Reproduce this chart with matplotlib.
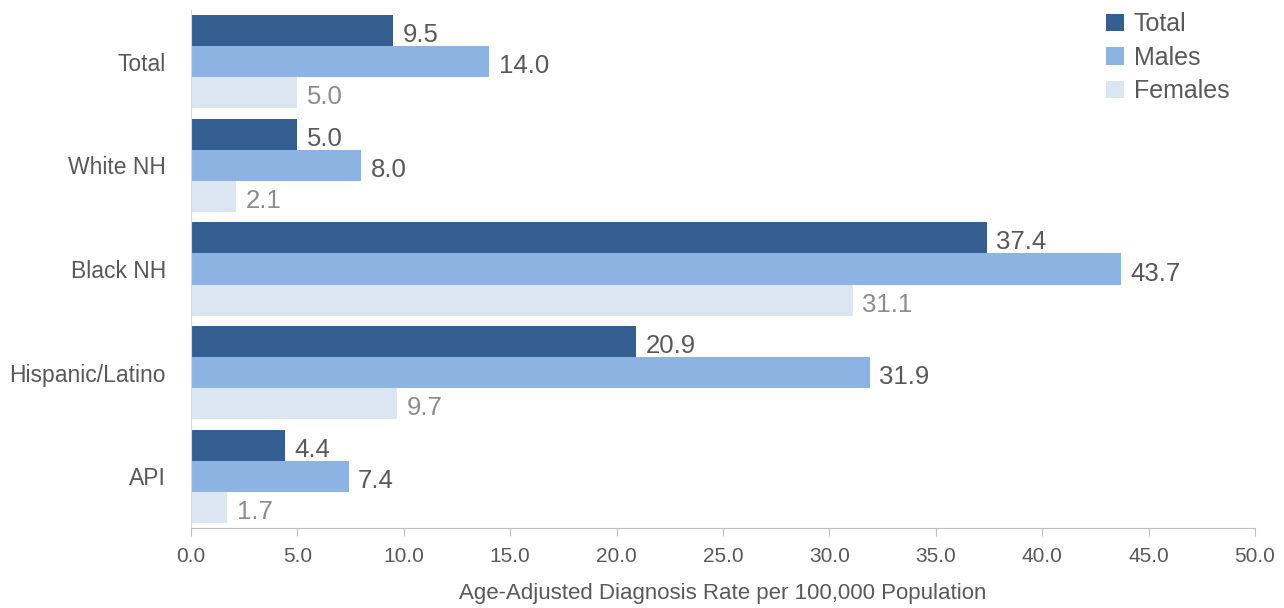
import matplotlib
matplotlib.use('Agg')
import matplotlib.pyplot as plt
import numpy as np

plt.rcParams['font.family'] = ['Liberation Sans', 'DejaVu Sans']

groups = ['Total', 'White NH', 'Black NH', 'Hispanic/Latino', 'API']
total = [9.5, 5.0, 37.4, 20.9, 4.4]
males = [14.0, 8.0, 43.7, 31.9, 7.4]
females = [5.0, 2.1, 31.1, 9.7, 1.7]
xticks = [0, 5, 10, 15, 20, 25, 30, 35, 40, 45, 50]

series = [
    ('Total', total, '#355f91', '#595959'),
    ('Males', males, '#8db3e2', '#595959'),
    ('Females', females, '#dce6f2', '#8c8c8c'),
]

fig = plt.figure(figsize=(12.84, 6.08), dpi=100)
ax = fig.add_axes([0.1488, 0.1316, 0.8286, 0.852])

y = np.arange(len(groups))
h = 0.3
for i, (name, vals, color, tcolor) in enumerate(series):
    pos = y + (i - 1) * h
    ax.barh(pos, vals, height=h, color=color, label=name)
    for p, v in zip(pos, vals):
        ax.text(v + 0.45, p + 0.02, f'{v:.1f}', va='center_baseline', ha='left',
                fontsize=18.5, color=tcolor)

ax.set_ylim(len(groups) - 0.5, -0.5)
ax.set_yticks(y)
ax.set_yticklabels(groups, fontsize=16.5, color='#595959')
ax.tick_params(axis='y', length=0, pad=18)

ax.set_xlim(0, 50)
ax.set_xticks(xticks)
ax.set_xticklabels([f'{t:.1f}' for t in xticks], fontsize=15, color='#595959')
ax.tick_params(axis='x', length=6, color='#bfbfbf', pad=8)
ax.set_xlabel('Age-Adjusted Diagnosis Rate per 100,000 Population',
              fontsize=16, color='#595959', labelpad=12)

for s in ['top', 'right']:
    ax.spines[s].set_visible(False)
ax.spines['left'].set_color('#d9d9d9')
ax.spines['bottom'].set_color('#bfbfbf')

leg = ax.legend(loc='upper right', bbox_to_anchor=(0.99, 1.025), frameon=False,
                fontsize=18, handlelength=0.7, handleheight=0.7,
                handletextpad=0.4, labelspacing=0.38, borderaxespad=0.2)
for t in leg.get_texts():
    t.set_color('#595959')

fig.savefig('out.png', dpi=100)
